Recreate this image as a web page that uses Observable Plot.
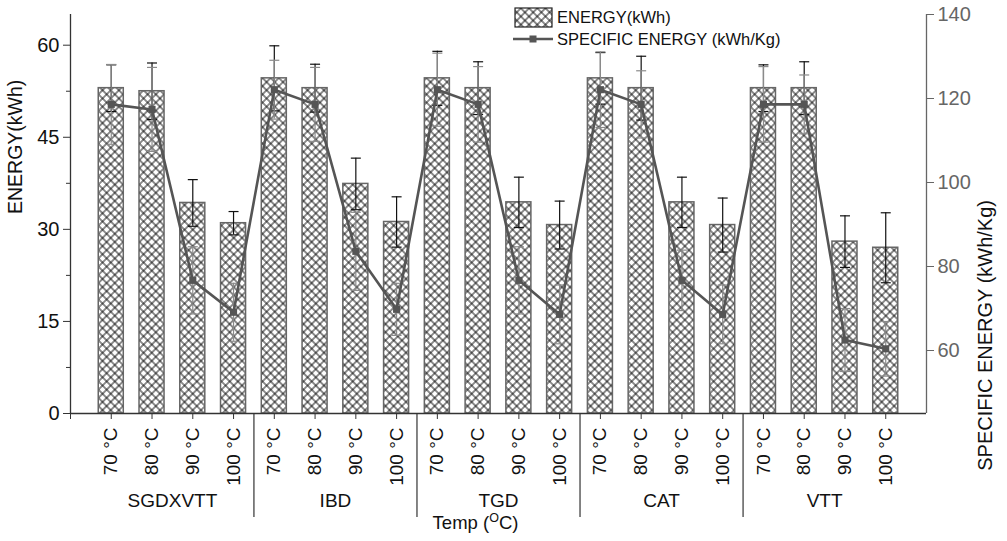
<!DOCTYPE html>
<html>
<head>
<meta charset="utf-8">
<script src="https://cdn.jsdelivr.net/npm/d3@7"></script>
<script src="https://cdn.jsdelivr.net/npm/@observablehq/plot@0.6"></script>
<style>
  html, body { margin: 0; padding: 0; background: #fff; }
</style>
</head>
<body>
<div id="chart"></div>
<script>
// ---- data ----
const groups = ["SGDXVTT", "IBD", "TGD", "CAT", "VTT"];
const temps = ["70 °C", "80 °C", "90 °C", "100 °C"];
const energy = [53.0, 52.5, 34.3, 31.0, 54.6, 53.0, 37.4, 31.2, 54.6, 53.0, 34.4, 30.7, 54.6, 53.0, 34.4, 30.7, 53.0, 53.0, 28.0, 27.0];
const energyErr = [3.8, 4.6, 3.8, 1.9, 5.3, 3.9, 4.2, 4.1, 4.4, 4.3, 4.1, 3.9, 4.2, 5.2, 4.1, 4.4, 3.8, 4.3, 4.2, 5.7];
const specific = [118.6, 117.4, 76.7, 69.1, 122.1, 118.6, 83.6, 69.8, 122.1, 118.6, 76.7, 68.6, 122.1, 118.6, 76.7, 68.6, 118.6, 118.6, 62.5, 60.4];
const specificErr = [9.5, 10.0, 8.0, 6.9, 7.0, 8.8, 9.3, 6.2, 8.7, 9.0, 8.0, 7.0, 9.0, 8.0, 7.2, 7.0, 9.0, 7.0, 7.5, 6.5];
const leftTicks = [0, 15, 30, 45, 60];
const leftMinor = [7.5, 22.5, 37.5, 52.5];
const rightTicks = [60, 80, 100, 120, 140];

// ---- scales ----
const leftDomain = [0, 65];
const rightDomain = [45, 140];
const toE = v => (v - rightDomain[0]) / (rightDomain[1] - rightDomain[0]) * (leftDomain[1] - leftDomain[0]) + leftDomain[0];
const fromE = e => (e - leftDomain[0]) / (leftDomain[1] - leftDomain[0]) * (rightDomain[1] - rightDomain[0]) + rightDomain[0];

const rows = energy.map((e, k) => ({
  i: k + 1,
  group: groups[Math.floor(k / 4)],
  temp: temps[k % 4],
  energy: e,
  eErr: energyErr[k],
  spec: specific[k],
  sErr: specificErr[k]
}));
const groupRows = groups.map((g, j) => ({group: g, x: j * 4 + 2.5}));
const separators = groups.slice(1).map((g, j) => (j + 1) * 4 + 0.5);
const halfBar = 0.307;

const cap = {
  draw(ctx, size) {
    const r = Math.sqrt(size / Math.PI);
    ctx.moveTo(-r, 0);
    ctx.lineTo(r, 0);
  }
};

const chart = Plot.plot({
  width: 1007,
  height: 541,
  marginLeft: 70,
  marginRight: 81,
  marginTop: 14,
  marginBottom: 128,
  style: {fontFamily: "'Liberation Sans', Arial, sans-serif", fontSize: "19px", background: "#fff", color: "#111"},
  x: {type: "linear", domain: [0, 21]},
  y: {domain: leftDomain},
  marks: [
    // bars
    Plot.rectY(rows, {x1: d => d.i - halfBar, x2: d => d.i + halfBar, y: "energy", fill: "url(#hatch)", stroke: "#666", strokeWidth: 1.5}),
    // energy error bars (black)
    Plot.ruleX(rows, {x: "i", y1: d => d.energy - d.eErr, y2: d => d.energy + d.eErr, stroke: "#111", strokeWidth: 1.2}),
    Plot.dot(rows, {x: "i", y: d => d.energy + d.eErr, symbol: cap, r: 5, stroke: "#111", strokeWidth: 1.2, fill: "none"}),
    Plot.dot(rows, {x: "i", y: d => d.energy - d.eErr, symbol: cap, r: 5, stroke: "#111", strokeWidth: 1.2, fill: "none"}),
    // specific energy error bars (gray)
    Plot.ruleX(rows, {x: "i", y1: d => toE(d.spec - d.sErr), y2: d => toE(d.spec + d.sErr), stroke: "#8a8a8a", strokeWidth: 1.2}),
    Plot.dot(rows, {x: "i", y: d => toE(d.spec + d.sErr), symbol: cap, r: 5, stroke: "#8a8a8a", strokeWidth: 1.2, fill: "none"}),
    Plot.dot(rows, {x: "i", y: d => toE(d.spec - d.sErr), symbol: cap, r: 5, stroke: "#8a8a8a", strokeWidth: 1.2, fill: "none"}),
    // specific energy line
    Plot.line(rows, {x: "i", y: d => toE(d.spec), stroke: "#555", strokeWidth: 2.6}),
    Plot.dot(rows, {x: "i", y: d => toE(d.spec), symbol: "square", r: 4, fill: "#555", stroke: "none"}),
    // axis lines
    Plot.ruleX([0], {stroke: "#333", strokeWidth: 1.3}),
    Plot.ruleX([21], {stroke: "#666", strokeWidth: 1.3}),
    Plot.ruleY([0], {stroke: "#333", strokeWidth: 1.6}),
    // left axis
    Plot.axisY({ticks: leftTicks, tickSize: 7, tickPadding: 4, label: null, stroke: "#333", fontSize: 20}),
    Plot.axisY({ticks: leftMinor, tickSize: 4, tickFormat: () => "", label: null, stroke: "#333"}),
    // right axis
    Plot.axisY({anchor: "right", ticks: rightTicks.map(toE), tickFormat: e => String(Math.round(fromE(e))), tickSize: 7, tickPadding: 4, label: null, color: "#666", stroke: "#666", fontSize: 20}),
    // bottom axis: temperatures
    Plot.axisX({ticks: rows.map(d => d.i), tickFormat: i => temps[(i - 1) % 4], tickRotate: -90, tickSize: 6, tickPadding: 8, label: null, stroke: "#333"}),
    Plot.axisX({ticks: [0], tickFormat: () => "", tickSize: 6, label: null, stroke: "#333"}),
    // group separators
    Plot.axisX({ticks: separators, tickFormat: () => "", tickSize: 104, label: null, stroke: "#333", strokeWidth: 1.2}),
    // group labels
    Plot.text(groupRows, {x: "x", text: "group", frameAnchor: "bottom", dy: 93, fill: "#111"}),
    // axis titles
    Plot.text(["Temp (OC)"], {frameAnchor: "bottom", dx: -23, dy: 115, fontSize: 18.5, fill: "#111"}),
    Plot.text(["ENERGY(kWh)"], {frameAnchor: "left", rotate: -90, dx: -55, fontSize: 19.5, fill: "#111"}),
    Plot.text(["SPECIFIC ENERGY (kWh/Kg)"], {frameAnchor: "right", rotate: -90, dx: 59, dy: -14, fontSize: 20, fill: "#111"})
  ]
});

// hatch pattern
const svg = d3.select(chart);
const defs = svg.insert("defs", ":first-child");
const pat = defs.append("pattern")
  .attr("id", "hatch")
  .attr("patternUnits", "userSpaceOnUse")
  .attr("width", 5.8).attr("height", 5.8)
  .attr("patternTransform", "rotate(45)");
pat.append("rect").attr("width", 5.8).attr("height", 5.8).attr("fill", "#fff");
pat.append("path").attr("d", "M0,2.9H5.8M2.9,0V5.8").attr("stroke", "#000").attr("stroke-width", 0.9);

// superscript in Temp label
svg.selectAll("text").filter(function() { return this.textContent === "Temp (OC)"; })
  .each(function() {
    const t = d3.select(this);
    t.text(null);
    t.append("tspan").text("Temp (");
    t.append("tspan").text("O").attr("font-size", 12.5).attr("dy", -7);
    t.append("tspan").text("C)").attr("dy", 7);
  });

// legend
const lg = svg.append("g")
  .attr("font-family", "'Liberation Sans', Arial, sans-serif")
  .attr("font-size", 16.5)
  .attr("fill", "#111")
  .attr("text-anchor", "start");
lg.append("rect").attr("x", 515).attr("y", 8).attr("width", 37).attr("height", 19).attr("fill", "url(#hatch)").attr("stroke", "#222").attr("stroke-width", 1.2);
lg.append("text").attr("x", 557).attr("y", 17.5).attr("dy", "0.35em").attr("text-anchor", "start").text("ENERGY(kWh)");
lg.append("line").attr("x1", 513).attr("x2", 553).attr("y1", 39).attr("y2", 39).attr("stroke", "#555").attr("stroke-width", 2.6);
lg.append("rect").attr("x", 529.5).attr("y", 35.5).attr("width", 7).attr("height", 7).attr("fill", "#555");
lg.append("text").attr("x", 557).attr("y", 39).attr("dy", "0.35em").attr("text-anchor", "start").text("SPECIFIC ENERGY (kWh/Kg)");

document.getElementById("chart").appendChild(chart);
</script>
</body>
</html>
